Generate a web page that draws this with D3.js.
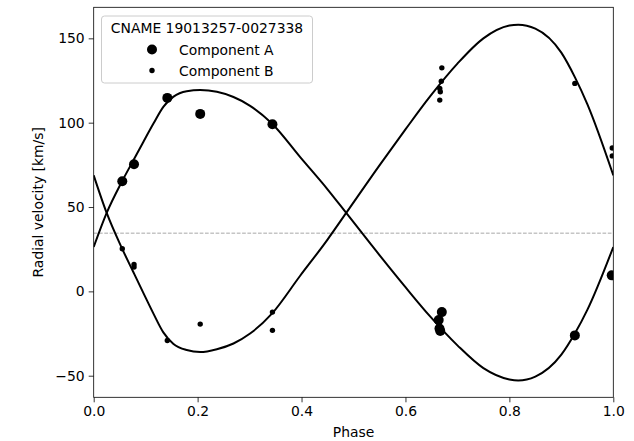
<!DOCTYPE html>
<meta charset="utf-8">
<script src="https://d3js.org/d3.v7.min.js"></script>
<style>
  body { margin: 0; background: #fff; }
  text { font-family: 'DejaVu Sans', sans-serif; fill: #000; }
</style>
<div id="chart"></div>
<script>
// fitted orbit curves
var fitPhase = [0, 0.025, 0.054, 0.076, 0.0955, 0.115, 0.134, 0.153, 0.179, 0.205, 0.237, 0.269, 0.301, 0.343, 0.397, 0.45, 0.486, 0.55, 0.6, 0.647, 0.7, 0.75, 0.8, 0.817, 0.85, 0.9, 0.926, 0.95, 1.0];
var fitA = [26.3, 46.5, 64.9, 77.5, 88.6, 99.5, 109.4, 115.3, 118.7, 119.3, 118.3, 115.2, 110, 99.5, 79.7, 60.5, 46.5, 21.5, 2.5, -14.7, -32, -45.5, -52.2, -52.8, -50.5, -37.5, -25, -11, 26.3];
var fitB = [68.8, 46.5, 25.8, 11.6, -0.9, -13.2, -24.3, -31, -34.8, -36, -34.3, -30.9, -25, -13.2, 9.1, 30.7, 46.5, 74.7, 96, 115.4, 135, 150, 157.6, 158.1, 155.8, 141.5, 127, 111, 68.8];

// measured radial velocities
var phaseA = [0.055, 0.0776, 0.1417, 0.205, 0.344, 0.670, 0.664, 0.6655, 0.667, 0.926, 0.997];
var rvA = [65.3, 75.4, 114.7, 105.2, 99.1, -12.3, -17, -22, -23.5, -26.1, 9.5];
var phaseB = [0.055, 0.0776, 0.0776, 0.1417, 0.205, 0.344, 0.344, 0.670, 0.669, 0.666, 0.667, 0.666, 0.926, 0.998, 0.998];
var rvB = [25.3, 16, 14.4, -29.1, -19.4, -12.3, -23.1, 132.5, 124.6, 120.3, 118.3, 113.4, 123.3, 85, 80.3];

var systemic = 34.5;
var xTicks = [0, 0.2, 0.4, 0.6, 0.8, 1.0];
var yTicks = [-50, 0, 50, 100, 150];
var legendTitle = "CNAME 19013257-0027338";
var legendNames = ["Component A", "Component B"];

var margin = { top: 7.3, left: 93.7 },
    width = 519.6,
    height = 390;

var svg = d3.select("#chart").append("svg")
    .attr("width", 634)
    .attr("height", 441);

var g = svg.append("g")
    .attr("transform", "translate(" + margin.left + "," + margin.top + ")");

var x = d3.scaleLinear().domain([0, 1]).range([0, width]);
var y = d3.scaleLinear().domain([-62.8, 168.4]).range([height, 0]);

g.append("clipPath").attr("id", "clip")
    .append("rect").attr("width", width).attr("height", height);

var plot = g.append("g").attr("clip-path", "url(#clip)");

// systemic velocity
plot.append("line")
    .attr("x1", 0).attr("x2", width)
    .attr("y1", y(systemic)).attr("y2", y(systemic))
    .attr("stroke", "#a8a8a8")
    .attr("stroke-width", 1)
    .attr("stroke-dasharray", "3.7,1.6");

var line = d3.line()
    .x(function (d) { return x(d[0]); })
    .y(function (d) { return y(d[1]); })
    .curve(d3.curveMonotoneX);

[fitA, fitB].forEach(function (vals) {
    plot.append("path")
        .datum(fitPhase.map(function (p, i) { return [p, vals[i]]; }))
        .attr("fill", "none")
        .attr("stroke", "#000")
        .attr("stroke-width", 2)
        .attr("d", line);
});

plot.selectAll(".dotA")
    .data(phaseA.map(function (p, i) { return [p, rvA[i]]; }))
    .enter().append("circle")
    .attr("cx", function (d) { return x(d[0]); })
    .attr("cy", function (d) { return y(d[1]); })
    .attr("r", 5)
    .attr("fill", "#000");

plot.selectAll(".dotB")
    .data(phaseB.map(function (p, i) { return [p, rvB[i]]; }))
    .enter().append("circle")
    .attr("cx", function (d) { return x(d[0]); })
    .attr("cy", function (d) { return y(d[1]); })
    .attr("r", 2.7)
    .attr("fill", "#000");

// axes
var xAxis = g.append("g")
    .attr("transform", "translate(0," + height + ")")
    .call(d3.axisBottom(x).tickValues(xTicks).tickFormat(d3.format(".1f")).tickSize(5).tickPadding(4));
var yAxis = g.append("g")
    .call(d3.axisLeft(y).tickValues(yTicks).tickSize(5).tickPadding(4));

[xAxis, yAxis].forEach(function (a) {
    a.select(".domain").remove();
    a.selectAll("line").attr("stroke", "#000").attr("stroke-width", 0.8);
    a.selectAll("text").style("font-size", "13.9px").style("font-family", "'DejaVu Sans', sans-serif").attr("fill", "#000");
});

g.append("rect")
    .attr("width", width).attr("height", height)
    .attr("fill", "none")
    .attr("stroke", "#000")
    .attr("stroke-width", 0.8);

svg.append("text")
    .attr("x", margin.left + width / 2)
    .attr("y", 437)
    .attr("text-anchor", "middle")
    .style("font-size", "13.9px")
    .text("Phase");

svg.append("text")
    .attr("transform", "translate(43," + (margin.top + height / 2) + ") rotate(-90)")
    .attr("text-anchor", "middle")
    .style("font-size", "13.9px")
    .text("Radial velocity [km/s]");

// legend
var leg = svg.append("g");
leg.append("rect")
    .attr("x", 101.5).attr("y", 16)
    .attr("width", 211).attr("height", 67)
    .attr("rx", 3)
    .attr("fill", "#fff").attr("fill-opacity", 0.8)
    .attr("stroke", "#ccc");
leg.append("text")
    .attr("x", 207).attr("y", 33)
    .attr("text-anchor", "middle")
    .style("font-size", "13.9px")
    .text(legendTitle);
[5, 2.7].forEach(function (r, i) {
    leg.append("circle")
        .attr("cx", 152).attr("cy", 49.5 + i * 21)
        .attr("r", r).attr("fill", "#000");
    leg.append("text")
        .attr("x", 179).attr("y", 54.5 + i * 21)
        .style("font-size", "13.9px")
        .text(legendNames[i]);
});
</script>
